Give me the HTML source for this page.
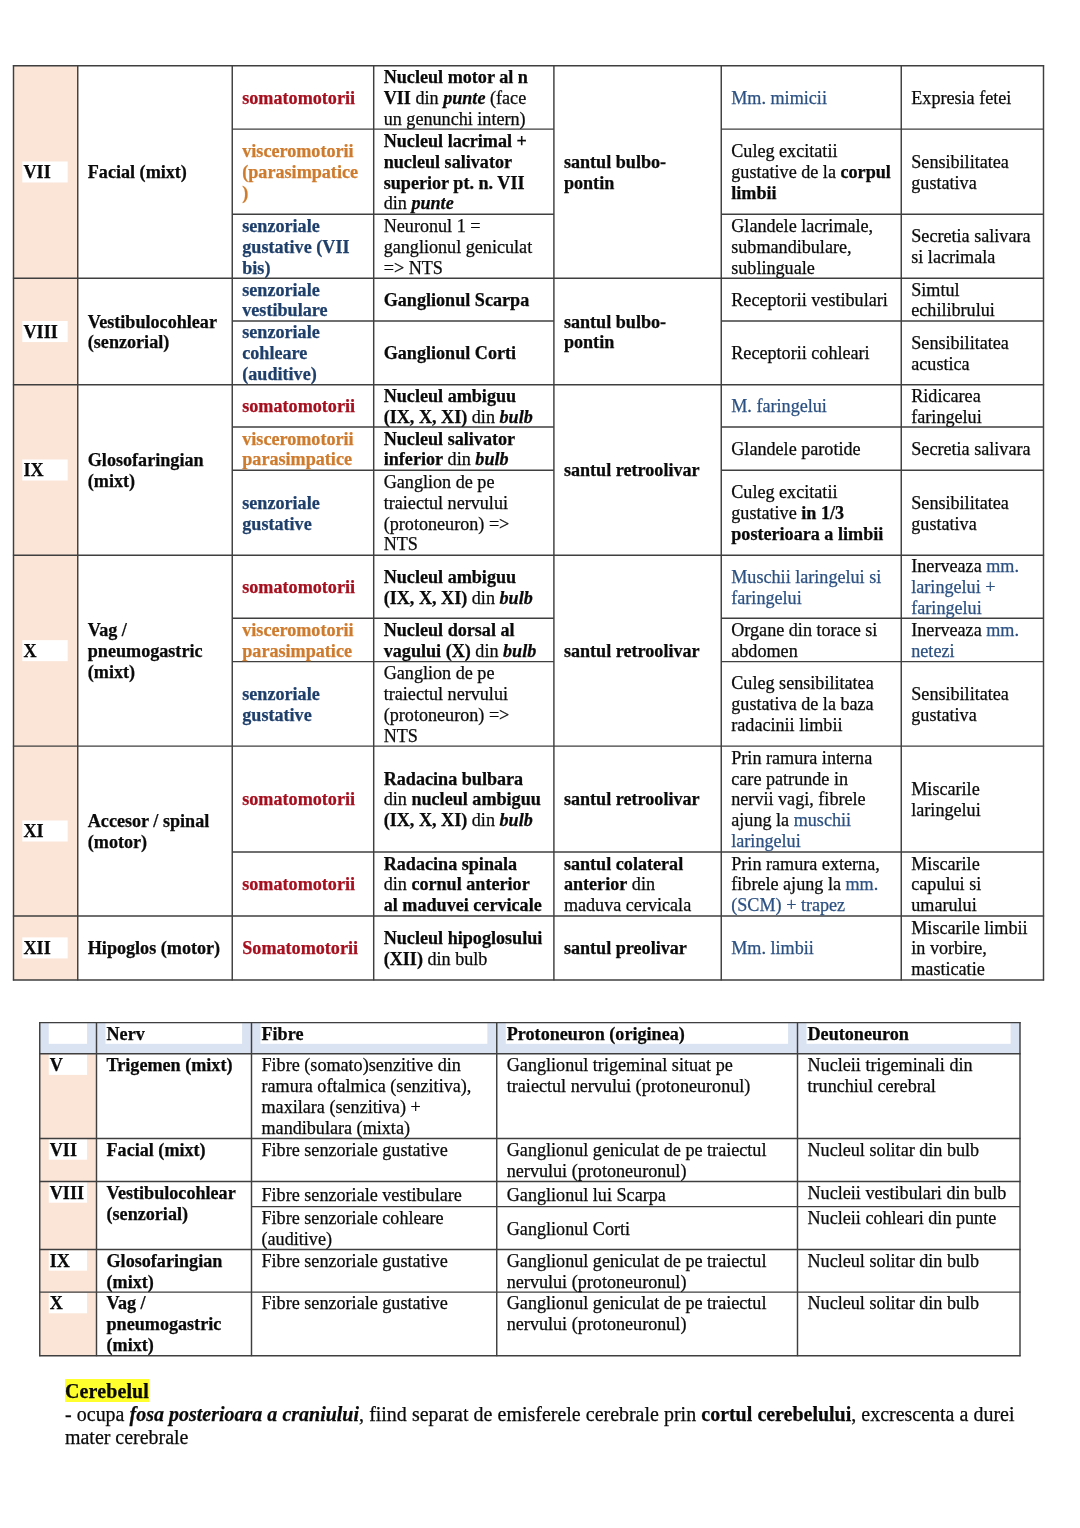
<!DOCTYPE html>
<html><head><meta charset="utf-8"><title>Nervi cranieni</title>
<style>
html,body{margin:0;padding:0;background:#fff}
body{width:1080px;height:1528px;position:relative;overflow:hidden;font-family:"Liberation Serif",serif;font-size:18.14px;line-height:20.86px;color:#0a0a0a}
.f{position:absolute}
.c{position:absolute;display:flex;flex-direction:column;white-space:nowrap;box-sizing:border-box}
.p{display:block}
.p.hl{background:#fff}
.b{font-weight:bold}
.red{color:#A50F1E}
.or{color:#CE7B2E}
.bb{color:#1F3F6B}
.bl{color:#2B5081}
svg{position:absolute;left:0;top:0}
#tx{-webkit-text-stroke:0.25px;position:absolute;left:0;top:0;width:1080px;height:1528px;will-change:transform}
svg line{stroke:#3f3f3f}
.t{position:absolute;white-space:nowrap;font-size:19.96px;line-height:23.2px;color:#0a0a0a}
.y{background:#FFFF33}
</style></head><body>
<div class="f" style="left:13.50px;top:65.65px;width:64.25px;height:914.25px;background:#FBE5D6"></div>
<div class="f" style="left:39.75px;top:1022.60px;width:980.25px;height:31.10px;background:#DAE3F2"></div>
<div class="f" style="left:39.75px;top:1053.70px;width:56.75px;height:302.00px;background:#FBE5D6"></div>
<svg width="1080" height="1528" viewBox="0 0 1080 1528">
<rect x="22.30" y="161.45" width="45.35" height="21.06" fill="#fff"/>
<rect x="22.30" y="321.02" width="45.35" height="21.06" fill="#fff"/>
<rect x="22.30" y="459.47" width="45.35" height="21.06" fill="#fff"/>
<rect x="22.30" y="640.12" width="45.35" height="21.06" fill="#fff"/>
<rect x="22.30" y="820.47" width="45.35" height="21.06" fill="#fff"/>
<rect x="22.30" y="937.37" width="45.35" height="21.06" fill="#fff"/>
<line x1="13.50" y1="65.05" x2="13.50" y2="980.50" stroke-width="1.45"/>
<line x1="77.75" y1="65.05" x2="77.75" y2="980.50" stroke-width="1.45"/>
<line x1="232.25" y1="65.05" x2="232.25" y2="980.50" stroke-width="1.45"/>
<line x1="373.70" y1="65.05" x2="373.70" y2="980.50" stroke-width="1.45"/>
<line x1="553.90" y1="65.05" x2="553.90" y2="980.50" stroke-width="1.45"/>
<line x1="721.25" y1="65.05" x2="721.25" y2="980.50" stroke-width="1.45"/>
<line x1="901.25" y1="65.05" x2="901.25" y2="980.50" stroke-width="1.45"/>
<line x1="1043.50" y1="65.05" x2="1043.50" y2="980.50" stroke-width="1.45"/>
<line x1="12.90" y1="65.65" x2="1044.10" y2="65.65" stroke-width="1.45"/>
<line x1="232.25" y1="129.10" x2="553.90" y2="129.10" stroke-width="1.45"/>
<line x1="721.25" y1="129.10" x2="1043.50" y2="129.10" stroke-width="1.45"/>
<line x1="232.25" y1="214.20" x2="553.90" y2="214.20" stroke-width="1.45"/>
<line x1="721.25" y1="214.20" x2="1043.50" y2="214.20" stroke-width="1.45"/>
<line x1="12.90" y1="278.30" x2="1044.10" y2="278.30" stroke-width="1.45"/>
<line x1="232.25" y1="320.90" x2="553.90" y2="320.90" stroke-width="1.45"/>
<line x1="721.25" y1="320.90" x2="1043.50" y2="320.90" stroke-width="1.45"/>
<line x1="12.90" y1="384.80" x2="1044.10" y2="384.80" stroke-width="1.45"/>
<line x1="232.25" y1="426.90" x2="553.90" y2="426.90" stroke-width="1.45"/>
<line x1="721.25" y1="426.90" x2="1043.50" y2="426.90" stroke-width="1.45"/>
<line x1="232.25" y1="470.20" x2="553.90" y2="470.20" stroke-width="1.45"/>
<line x1="721.25" y1="470.20" x2="1043.50" y2="470.20" stroke-width="1.45"/>
<line x1="12.90" y1="555.20" x2="1044.10" y2="555.20" stroke-width="1.45"/>
<line x1="232.25" y1="618.30" x2="553.90" y2="618.30" stroke-width="1.45"/>
<line x1="721.25" y1="618.30" x2="1043.50" y2="618.30" stroke-width="1.45"/>
<line x1="232.25" y1="661.60" x2="553.90" y2="661.60" stroke-width="1.45"/>
<line x1="721.25" y1="661.60" x2="1043.50" y2="661.60" stroke-width="1.45"/>
<line x1="12.90" y1="746.10" x2="1044.10" y2="746.10" stroke-width="1.45"/>
<line x1="232.25" y1="851.90" x2="553.90" y2="851.90" stroke-width="1.45"/>
<line x1="721.25" y1="851.90" x2="1043.50" y2="851.90" stroke-width="1.45"/>
<line x1="553.90" y1="851.90" x2="721.25" y2="851.90" stroke-width="1.45"/>
<line x1="12.90" y1="915.90" x2="1044.10" y2="915.90" stroke-width="1.45"/>
<line x1="12.90" y1="979.90" x2="1044.10" y2="979.90" stroke-width="1.45"/>
<rect x="48.75" y="1023.30" width="38.35" height="20.50" fill="#fff"/>
<rect x="105.50" y="1023.30" width="136.60" height="20.50" fill="#fff"/>
<rect x="260.50" y="1023.30" width="226.85" height="20.50" fill="#fff"/>
<rect x="505.75" y="1023.30" width="282.35" height="20.50" fill="#fff"/>
<rect x="806.50" y="1023.30" width="204.10" height="20.50" fill="#fff"/>
<rect x="48.75" y="1054.40" width="38.35" height="20.50" fill="#fff"/>
<rect x="48.75" y="1139.20" width="38.35" height="20.50" fill="#fff"/>
<rect x="48.75" y="1182.20" width="38.35" height="20.50" fill="#fff"/>
<rect x="48.75" y="1250.15" width="38.35" height="20.50" fill="#fff"/>
<rect x="48.75" y="1292.80" width="38.35" height="20.50" fill="#fff"/>
<line x1="39.75" y1="1022.00" x2="39.75" y2="1356.30" stroke-width="1.45"/>
<line x1="96.50" y1="1022.00" x2="96.50" y2="1356.30" stroke-width="1.45"/>
<line x1="251.50" y1="1022.00" x2="251.50" y2="1356.30" stroke-width="1.45"/>
<line x1="496.75" y1="1022.00" x2="496.75" y2="1356.30" stroke-width="1.45"/>
<line x1="797.50" y1="1022.00" x2="797.50" y2="1356.30" stroke-width="1.45"/>
<line x1="1020.00" y1="1022.00" x2="1020.00" y2="1356.30" stroke-width="1.45"/>
<line x1="39.15" y1="1022.60" x2="1020.60" y2="1022.60" stroke-width="1.45"/>
<line x1="39.15" y1="1053.70" x2="1020.60" y2="1053.70" stroke-width="1.45"/>
<line x1="39.15" y1="1138.50" x2="1020.60" y2="1138.50" stroke-width="1.45"/>
<line x1="39.15" y1="1181.50" x2="1020.60" y2="1181.50" stroke-width="1.45"/>
<line x1="39.15" y1="1249.45" x2="1020.60" y2="1249.45" stroke-width="1.45"/>
<line x1="39.15" y1="1292.10" x2="1020.60" y2="1292.10" stroke-width="1.45"/>
<line x1="39.15" y1="1355.70" x2="1020.60" y2="1355.70" stroke-width="1.45"/>
<line x1="251.50" y1="1206.60" x2="1020.00" y2="1206.60" stroke-width="1.45"/>
</svg>
<div id="tx">
<div class="c b" style="left:23.50px;top:66.55px;width:46.25px;height:212.65px;justify-content:center"><div class="p">VII</div></div>
<div class="c b" style="left:87.75px;top:66.55px;width:136.50px;height:212.65px;justify-content:center"><div class="p">Facial (mixt)</div></div>
<div class="c b" style="left:23.50px;top:279.20px;width:46.25px;height:106.50px;justify-content:center"><div class="p">VIII</div></div>
<div class="c b" style="left:87.75px;top:279.20px;width:136.50px;height:106.50px;justify-content:center"><div class="p">Vestibulocohlear<br>(senzorial)</div></div>
<div class="c b" style="left:23.50px;top:385.70px;width:46.25px;height:170.40px;justify-content:center"><div class="p">IX</div></div>
<div class="c b" style="left:87.75px;top:385.70px;width:136.50px;height:170.40px;justify-content:center"><div class="p">Glosofaringian<br>(mixt)</div></div>
<div class="c b" style="left:23.50px;top:556.10px;width:46.25px;height:190.90px;justify-content:center"><div class="p">X</div></div>
<div class="c b" style="left:87.75px;top:556.10px;width:136.50px;height:190.90px;justify-content:center"><div class="p">Vag /<br>pneumogastric<br>(mixt)</div></div>
<div class="c b" style="left:23.50px;top:747.00px;width:46.25px;height:169.80px;justify-content:center"><div class="p">XI</div></div>
<div class="c b" style="left:87.75px;top:747.00px;width:136.50px;height:169.80px;justify-content:center"><div class="p">Accesor / spinal<br>(motor)</div></div>
<div class="c b" style="left:23.50px;top:916.80px;width:46.25px;height:64.00px;justify-content:center"><div class="p">XII</div></div>
<div class="c b" style="left:87.75px;top:916.80px;width:136.50px;height:64.00px;justify-content:center"><div class="p">Hipoglos (motor)</div></div>
<div class="c b red" style="left:242.25px;top:66.55px;width:123.45px;height:63.45px;justify-content:center"><div class="p">somatomotorii</div></div>
<div class="c b or" style="left:242.25px;top:130.00px;width:123.45px;height:85.10px;justify-content:center"><div class="p">visceromotorii<br>(parasimpatice<br>)</div></div>
<div class="c b bb" style="left:242.25px;top:215.10px;width:123.45px;height:64.10px;justify-content:center"><div class="p">senzoriale<br>gustative (VII<br>bis)</div></div>
<div class="c b bb" style="left:242.25px;top:279.20px;width:123.45px;height:42.60px;justify-content:center"><div class="p">senzoriale<br>vestibulare</div></div>
<div class="c b bb" style="left:242.25px;top:321.80px;width:123.45px;height:63.90px;justify-content:center"><div class="p">senzoriale<br>cohleare<br>(auditive)</div></div>
<div class="c b red" style="left:242.25px;top:385.70px;width:123.45px;height:42.10px;justify-content:center"><div class="p">somatomotorii</div></div>
<div class="c b or" style="left:242.25px;top:427.80px;width:123.45px;height:43.30px;justify-content:center"><div class="p">visceromotorii<br>parasimpatice</div></div>
<div class="c b bb" style="left:242.25px;top:471.10px;width:123.45px;height:85.00px;justify-content:center"><div class="p">senzoriale<br>gustative</div></div>
<div class="c b red" style="left:242.25px;top:556.10px;width:123.45px;height:63.10px;justify-content:center"><div class="p">somatomotorii</div></div>
<div class="c b or" style="left:242.25px;top:619.20px;width:123.45px;height:43.30px;justify-content:center"><div class="p">visceromotorii<br>parasimpatice</div></div>
<div class="c b bb" style="left:242.25px;top:662.50px;width:123.45px;height:84.50px;justify-content:center"><div class="p">senzoriale<br>gustative</div></div>
<div class="c b red" style="left:242.25px;top:747.00px;width:123.45px;height:105.80px;justify-content:center"><div class="p">somatomotorii</div></div>
<div class="c b red" style="left:242.25px;top:852.80px;width:123.45px;height:64.00px;justify-content:center"><div class="p">somatomotorii</div></div>
<div class="c b red" style="left:242.25px;top:916.80px;width:123.45px;height:64.00px;justify-content:center"><div class="p">Somatomotorii</div></div>
<div class="c " style="left:383.70px;top:66.55px;width:162.20px;height:63.45px;justify-content:center"><div class="p"><b>Nucleul motor al n</b><br><b>VII</b> din <b><i>punte</i></b> (face<br>un genunchi intern)</div></div>
<div class="c " style="left:383.70px;top:130.00px;width:162.20px;height:85.10px;justify-content:center"><div class="p"><b>Nucleul lacrimal +</b><br><b>nucleul salivator</b><br><b>superior pt. n. VII</b><br>din <b><i>punte</i></b></div></div>
<div class="c " style="left:383.70px;top:215.10px;width:162.20px;height:64.10px;justify-content:center"><div class="p">Neuronul 1 =<br>ganglionul geniculat<br>=&gt; NTS</div></div>
<div class="c " style="left:383.70px;top:279.20px;width:162.20px;height:42.60px;justify-content:center"><div class="p"><b>Ganglionul Scarpa</b></div></div>
<div class="c " style="left:383.70px;top:321.80px;width:162.20px;height:63.90px;justify-content:center"><div class="p"><b>Ganglionul Corti</b></div></div>
<div class="c " style="left:383.70px;top:385.70px;width:162.20px;height:42.10px;justify-content:center"><div class="p"><b>Nucleul ambiguu</b><br><b>(IX, X, XI)</b> din <b><i>bulb</i></b></div></div>
<div class="c " style="left:383.70px;top:427.80px;width:162.20px;height:43.30px;justify-content:center"><div class="p"><b>Nucleul salivator</b><br><b>inferior</b> din <b><i>bulb</i></b></div></div>
<div class="c " style="left:383.70px;top:471.10px;width:162.20px;height:85.00px;justify-content:center"><div class="p">Ganglion de pe<br>traiectul nervului<br>(protoneuron) =&gt;<br>NTS</div></div>
<div class="c " style="left:383.70px;top:556.10px;width:162.20px;height:63.10px;justify-content:center"><div class="p"><b>Nucleul ambiguu</b><br><b>(IX, X, XI)</b> din <b><i>bulb</i></b></div></div>
<div class="c " style="left:383.70px;top:619.20px;width:162.20px;height:43.30px;justify-content:center"><div class="p"><b>Nucleul dorsal al</b><br><b>vagului (X)</b> din <b><i>bulb</i></b></div></div>
<div class="c " style="left:383.70px;top:662.50px;width:162.20px;height:84.50px;justify-content:center"><div class="p">Ganglion de pe<br>traiectul nervului<br>(protoneuron) =&gt;<br>NTS</div></div>
<div class="c " style="left:383.70px;top:747.00px;width:162.20px;height:105.80px;justify-content:center"><div class="p"><b>Radacina bulbara</b><br>din <b>nucleul ambiguu</b><br><b>(IX, X, XI)</b> din <b><i>bulb</i></b></div></div>
<div class="c " style="left:383.70px;top:852.80px;width:162.20px;height:64.00px;justify-content:center"><div class="p"><b>Radacina spinala</b><br>din <b>cornul anterior</b><br><b>al maduvei cervicale</b></div></div>
<div class="c " style="left:383.70px;top:916.80px;width:162.20px;height:64.00px;justify-content:center"><div class="p"><b>Nucleul hipoglosului</b><br><b>(XII)</b> din bulb</div></div>
<div class="c " style="left:563.90px;top:66.55px;width:149.35px;height:212.65px;justify-content:center"><div class="p"><b>santul bulbo-</b><br><b>pontin</b></div></div>
<div class="c " style="left:563.90px;top:279.20px;width:149.35px;height:106.50px;justify-content:center"><div class="p"><b>santul bulbo-</b><br><b>pontin</b></div></div>
<div class="c " style="left:563.90px;top:385.70px;width:149.35px;height:170.40px;justify-content:center"><div class="p"><b>santul retroolivar</b></div></div>
<div class="c " style="left:563.90px;top:556.10px;width:149.35px;height:190.90px;justify-content:center"><div class="p"><b>santul retroolivar</b></div></div>
<div class="c " style="left:563.90px;top:747.00px;width:149.35px;height:105.80px;justify-content:center"><div class="p"><b>santul retroolivar</b></div></div>
<div class="c " style="left:563.90px;top:852.80px;width:149.35px;height:64.00px;justify-content:center"><div class="p"><b>santul colateral</b><br><b>anterior</b> din<br>maduva cervicala</div></div>
<div class="c " style="left:563.90px;top:916.80px;width:149.35px;height:64.00px;justify-content:center"><div class="p"><b>santul preolivar</b></div></div>
<div class="c " style="left:731.25px;top:66.55px;width:162.00px;height:63.45px;justify-content:center"><div class="p"><span class=bl>Mm. mimicii</span></div></div>
<div class="c " style="left:731.25px;top:130.00px;width:162.00px;height:85.10px;justify-content:center"><div class="p">Culeg excitatii<br>gustative de la <b>corpul</b><br><b>limbii</b></div></div>
<div class="c " style="left:731.25px;top:215.10px;width:162.00px;height:64.10px;justify-content:center"><div class="p">Glandele lacrimale,<br>submandibulare,<br>sublinguale</div></div>
<div class="c " style="left:731.25px;top:279.20px;width:162.00px;height:42.60px;justify-content:center"><div class="p">Receptorii vestibulari</div></div>
<div class="c " style="left:731.25px;top:321.80px;width:162.00px;height:63.90px;justify-content:center"><div class="p">Receptorii cohleari</div></div>
<div class="c " style="left:731.25px;top:385.70px;width:162.00px;height:42.10px;justify-content:center"><div class="p"><span class=bl>M. faringelui</span></div></div>
<div class="c " style="left:731.25px;top:427.80px;width:162.00px;height:43.30px;justify-content:center"><div class="p">Glandele parotide</div></div>
<div class="c " style="left:731.25px;top:471.10px;width:162.00px;height:85.00px;justify-content:center"><div class="p">Culeg excitatii<br>gustative <b>in 1/3</b><br><b>posterioara a limbii</b></div></div>
<div class="c " style="left:731.25px;top:556.10px;width:162.00px;height:63.10px;justify-content:center"><div class="p"><span class=bl>Muschii laringelui si</span><br><span class=bl>faringelui</span></div></div>
<div class="c " style="left:731.25px;top:619.20px;width:162.00px;height:43.30px;justify-content:center"><div class="p">Organe din torace si<br>abdomen</div></div>
<div class="c " style="left:731.25px;top:662.50px;width:162.00px;height:84.50px;justify-content:center"><div class="p">Culeg sensibilitatea<br>gustativa de la baza<br>radacinii limbii</div></div>
<div class="c " style="left:731.25px;top:747.00px;width:162.00px;height:105.80px;justify-content:center"><div class="p">Prin ramura interna<br>care patrunde in<br>nervii vagi, fibrele<br>ajung la <span class=bl>muschii</span><br><span class=bl>laringelui</span></div></div>
<div class="c " style="left:731.25px;top:852.80px;width:162.00px;height:64.00px;justify-content:center"><div class="p">Prin ramura externa,<br>fibrele ajung la <span class=bl>mm.</span><br><span class=bl>(SCM) + trapez</span></div></div>
<div class="c " style="left:731.25px;top:916.80px;width:162.00px;height:64.00px;justify-content:center"><div class="p"><span class=bl>Mm. limbii</span></div></div>
<div class="c " style="left:911.25px;top:66.55px;width:124.25px;height:63.45px;justify-content:center"><div class="p">Expresia fetei</div></div>
<div class="c " style="left:911.25px;top:130.00px;width:124.25px;height:85.10px;justify-content:center"><div class="p">Sensibilitatea<br>gustativa</div></div>
<div class="c " style="left:911.25px;top:215.10px;width:124.25px;height:64.10px;justify-content:center"><div class="p">Secretia salivara<br>si lacrimala</div></div>
<div class="c " style="left:911.25px;top:279.20px;width:124.25px;height:42.60px;justify-content:center"><div class="p">Simtul<br>echilibrului</div></div>
<div class="c " style="left:911.25px;top:321.80px;width:124.25px;height:63.90px;justify-content:center"><div class="p">Sensibilitatea<br>acustica</div></div>
<div class="c " style="left:911.25px;top:385.70px;width:124.25px;height:42.10px;justify-content:center"><div class="p">Ridicarea<br>faringelui</div></div>
<div class="c " style="left:911.25px;top:427.80px;width:124.25px;height:43.30px;justify-content:center"><div class="p">Secretia salivara</div></div>
<div class="c " style="left:911.25px;top:471.10px;width:124.25px;height:85.00px;justify-content:center"><div class="p">Sensibilitatea<br>gustativa</div></div>
<div class="c " style="left:911.25px;top:556.10px;width:124.25px;height:63.10px;justify-content:center"><div class="p">Inerveaza <span class=bl>mm.</span><br><span class=bl>laringelui +</span><br><span class=bl>faringelui</span></div></div>
<div class="c " style="left:911.25px;top:619.20px;width:124.25px;height:43.30px;justify-content:center"><div class="p">Inerveaza <span class=bl>mm.</span><br><span class=bl>netezi</span></div></div>
<div class="c " style="left:911.25px;top:662.50px;width:124.25px;height:84.50px;justify-content:center"><div class="p">Sensibilitatea<br>gustativa</div></div>
<div class="c " style="left:911.25px;top:747.00px;width:124.25px;height:105.80px;justify-content:center"><div class="p">Miscarile<br>laringelui</div></div>
<div class="c " style="left:911.25px;top:852.80px;width:124.25px;height:64.00px;justify-content:center"><div class="p">Miscarile<br>capului si<br>umarului</div></div>
<div class="c " style="left:911.25px;top:916.80px;width:124.25px;height:64.00px;justify-content:center"><div class="p">Miscarile limbii<br>in vorbire,<br>masticatie</div></div>
<div class="c b" style="left:49.75px;top:1023.80px;width:38.75px;height:31.10px;justify-content:flex-start"><div class="p">&nbsp;</div></div>
<div class="c b" style="left:106.50px;top:1023.80px;width:137.00px;height:31.10px;justify-content:flex-start"><div class="p">Nerv</div></div>
<div class="c b" style="left:261.50px;top:1023.80px;width:227.25px;height:31.10px;justify-content:flex-start"><div class="p">Fibre</div></div>
<div class="c b" style="left:506.75px;top:1023.80px;width:282.75px;height:31.10px;justify-content:flex-start"><div class="p">Protoneuron (originea)</div></div>
<div class="c b" style="left:807.50px;top:1023.80px;width:204.50px;height:31.10px;justify-content:flex-start"><div class="p">Deutoneuron</div></div>
<div class="c b" style="left:49.75px;top:1055.00px;width:38.75px;height:84.80px;justify-content:flex-start"><div class="p">V</div></div>
<div class="c b" style="left:106.50px;top:1055.00px;width:137.00px;height:84.80px;justify-content:flex-start"><div class="p">Trigemen (mixt)</div></div>
<div class="c " style="left:261.50px;top:1055.00px;width:227.25px;height:84.80px;justify-content:flex-start"><div class="p">Fibre (somato)senzitive din<br>ramura oftalmica (senzitiva),<br>maxilara (senzitiva) +<br>mandibulara (mixta)</div></div>
<div class="c " style="left:506.75px;top:1055.00px;width:282.75px;height:84.80px;justify-content:flex-start"><div class="p">Ganglionul trigeminal situat pe<br>traiectul nervului (protoneuronul)</div></div>
<div class="c " style="left:807.50px;top:1055.00px;width:204.50px;height:84.80px;justify-content:flex-start"><div class="p">Nucleii trigeminali din<br>trunchiul cerebral</div></div>
<div class="c b" style="left:49.75px;top:1139.80px;width:38.75px;height:43.00px;justify-content:flex-start"><div class="p">VII</div></div>
<div class="c b" style="left:106.50px;top:1139.80px;width:137.00px;height:43.00px;justify-content:flex-start"><div class="p">Facial (mixt)</div></div>
<div class="c " style="left:261.50px;top:1139.80px;width:227.25px;height:43.00px;justify-content:flex-start"><div class="p">Fibre senzoriale gustative</div></div>
<div class="c " style="left:506.75px;top:1139.80px;width:282.75px;height:43.00px;justify-content:flex-start"><div class="p">Ganglionul geniculat de pe traiectul<br>nervului (protoneuronul)</div></div>
<div class="c " style="left:807.50px;top:1139.80px;width:204.50px;height:43.00px;justify-content:flex-start"><div class="p">Nucleul solitar din bulb</div></div>
<div class="c b" style="left:49.75px;top:1182.80px;width:38.75px;height:67.95px;justify-content:flex-start"><div class="p">VIII</div></div>
<div class="c b" style="left:106.50px;top:1182.80px;width:137.00px;height:67.95px;justify-content:flex-start"><div class="p">Vestibulocohlear<br>(senzorial)</div></div>
<div class="c " style="left:261.50px;top:1182.90px;width:227.25px;height:25.10px;justify-content:center"><div class="p">Fibre senzoriale vestibulare</div></div>
<div class="c " style="left:506.75px;top:1182.90px;width:282.75px;height:25.10px;justify-content:center"><div class="p">Ganglionul lui Scarpa</div></div>
<div class="c " style="left:807.50px;top:1182.80px;width:204.50px;height:25.10px;justify-content:flex-start"><div class="p">Nucleii vestibulari din bulb</div></div>
<div class="c " style="left:261.50px;top:1207.90px;width:227.25px;height:42.85px;justify-content:flex-start"><div class="p">Fibre senzoriale cohleare<br>(auditive)</div></div>
<div class="c " style="left:506.75px;top:1208.00px;width:282.75px;height:42.85px;justify-content:center"><div class="p">Ganglionul Corti</div></div>
<div class="c " style="left:807.50px;top:1207.90px;width:204.50px;height:42.85px;justify-content:flex-start"><div class="p">Nucleii cohleari din punte</div></div>
<div class="c b" style="left:49.75px;top:1250.75px;width:38.75px;height:42.65px;justify-content:flex-start"><div class="p">IX</div></div>
<div class="c b" style="left:106.50px;top:1250.75px;width:137.00px;height:42.65px;justify-content:flex-start"><div class="p">Glosofaringian<br>(mixt)</div></div>
<div class="c " style="left:261.50px;top:1250.75px;width:227.25px;height:42.65px;justify-content:flex-start"><div class="p">Fibre senzoriale gustative</div></div>
<div class="c " style="left:506.75px;top:1250.75px;width:282.75px;height:42.65px;justify-content:flex-start"><div class="p">Ganglionul geniculat de pe traiectul<br>nervului (protoneuronul)</div></div>
<div class="c " style="left:807.50px;top:1250.75px;width:204.50px;height:42.65px;justify-content:flex-start"><div class="p">Nucleul solitar din bulb</div></div>
<div class="c b" style="left:49.75px;top:1293.40px;width:38.75px;height:63.60px;justify-content:flex-start"><div class="p">X</div></div>
<div class="c b" style="left:106.50px;top:1293.40px;width:137.00px;height:63.60px;justify-content:flex-start"><div class="p">Vag /<br>pneumogastric<br>(mixt)</div></div>
<div class="c " style="left:261.50px;top:1293.40px;width:227.25px;height:63.60px;justify-content:flex-start"><div class="p">Fibre senzoriale gustative</div></div>
<div class="c " style="left:506.75px;top:1293.40px;width:282.75px;height:63.60px;justify-content:flex-start"><div class="p">Ganglionul geniculat de pe traiectul<br>nervului (protoneuronul)</div></div>
<div class="c " style="left:807.50px;top:1293.40px;width:204.50px;height:63.60px;justify-content:flex-start"><div class="p">Nucleul solitar din bulb</div></div>
<div class="f" style="left:65.2px;top:1378.6px;width:84px;height:23.4px;background:#FFFF2E"></div>
<div class="t" style="left:65px;top:1379.9px;letter-spacing:0.15px"><b>Cerebelul</b></div>
<div class="t" style="left:65px;top:1402.5px;width:949.5px;text-align:justify;text-align-last:justify">- ocupa <b><i>fosa posterioara a craniului</i></b>, fiind separat de emisferele cerebrale prin <b>cortul cerebelului</b>, excrescenta a durei</div>
<div class="t" style="left:65px;top:1425.7px">mater cerebrale</div>
</div>
</body></html>
